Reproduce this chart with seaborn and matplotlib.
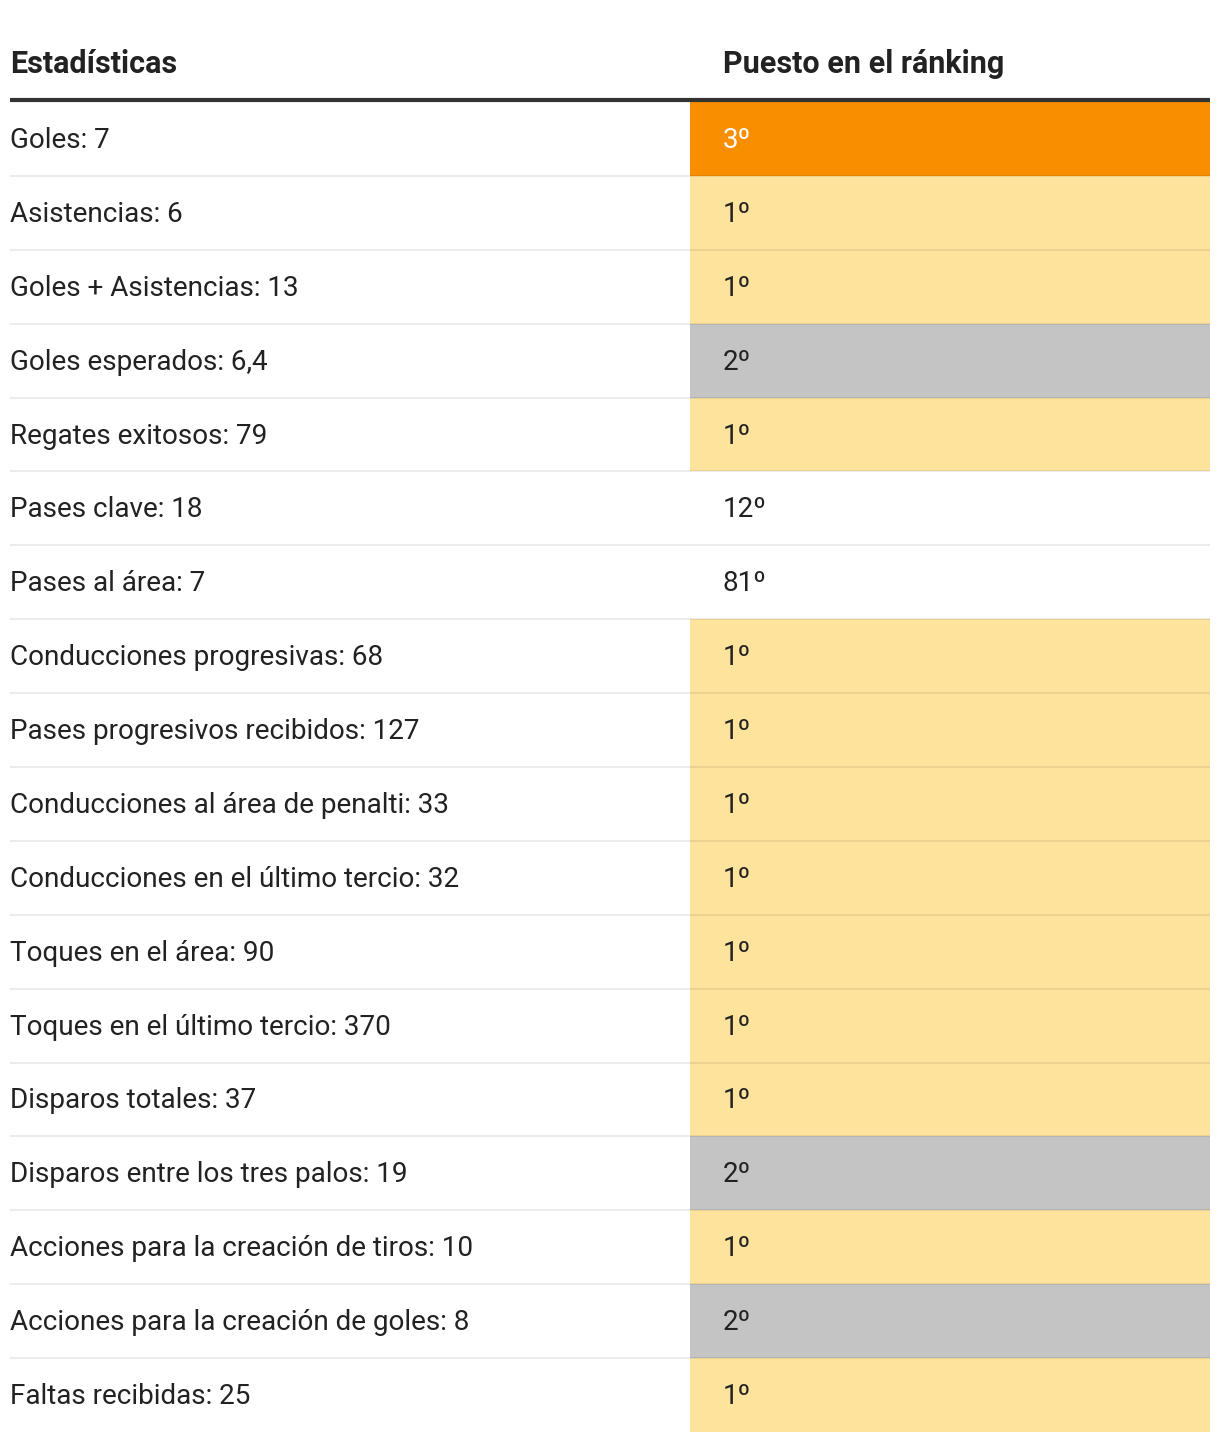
import numpy as np
import pandas as pd
import matplotlib
matplotlib.use("Agg")
import matplotlib.pyplot as plt
from matplotlib.colors import ListedColormap, BoundaryNorm
import seaborn as sns

sns.set_theme(style="white")
plt.rcParams['font.family'] = ['Roboto', 'DejaVu Sans']

stats = ["Goles", "Asistencias", "Goles + Asistencias", "Goles esperados",
         "Regates exitosos", "Pases clave", "Pases al área",
         "Conducciones progresivas", "Pases progresivos recibidos",
         "Conducciones al área de penalti", "Conducciones en el último tercio",
         "Toques en el área", "Toques en el último tercio", "Disparos totales",
         "Disparos entre los tres palos", "Acciones para la creación de tiros",
         "Acciones para la creación de goles", "Faltas recibidas"]
values = ["7", "6", "13", "6,4", "79", "18", "7", "68", "127", "33", "32",
          "90", "370", "37", "19", "10", "8", "25"]
ranks = [3, 1, 1, 2, 1, 12, 81, 1, 1, 1, 1, 1, 1, 1, 2, 1, 2, 1]
headers = ["Estadísticas", "Puesto en el ránking"]

W, H = 1220, 1442
fig = plt.figure(figsize=(W / 100, H / 100), dpi=100)
ax = fig.add_axes([0, 0, 1, 1])
ax.set_xlim(0, W)
ax.set_ylim(H, 0)
ax.axis("off")

top, bottom = 102, 1432
left, right, col2 = 10, 1210, 690
n = len(stats)
rowh = (bottom - top) / n

# colour classes: 0 white, 1 yellow (1st), 2 grey (2nd), 3 orange (3rd)
cls = np.array([[r if r in (1, 2, 3) else 0] for r in ranks])
cmap = ListedColormap(["#FFFFFF", "#FEE39C", "#C4C4C4", "#F98E00"])
norm = BoundaryNorm([-0.5, 0.5, 1.5, 2.5, 3.5], cmap.N)
hax = fig.add_axes([col2 / W, (H - bottom) / H, (right - col2) / W, (bottom - top) / H])
sns.heatmap(pd.DataFrame(cls), ax=hax, cmap=cmap, norm=norm, cbar=False,
            xticklabels=False, yticklabels=False, linewidths=0)
hax.axis("off")

# overlay axis for lines & text
tax = fig.add_axes([0, 0, 1, 1])
tax.set_xlim(0, W)
tax.set_ylim(H, 0)
tax.axis("off")
tax.patch.set_alpha(0)

for k in range(1, n):
    y = top + rowh * k
    tax.plot([left, right], [y, y], color=(0, 0, 0, 0.075), lw=1.5,
             solid_capstyle="butt")
tax.plot([left, right], [top - 2, top - 2], color="#333333", lw=3,
         solid_capstyle="butt")

fs = 20.1
hfs = 22
tax.text(left, 64, headers[0], fontsize=hfs, fontweight="bold",
         color="#222222", va="center", ha="left")
tax.text(723, 64, headers[1], fontsize=hfs, fontweight="bold",
         color="#222222", va="center", ha="left")

for i, (s, v, r) in enumerate(zip(stats, values, ranks)):
    y = top + rowh * (i + 0.5) + 1.5
    tax.text(left, y, f"{s}: {v}", fontsize=fs, color="#222222",
             va="center", ha="left")
    tax.text(723, y, f"{r}º", fontsize=fs,
             color="#FFFFFF" if r == 3 else "#222222", va="center", ha="left")

fig.savefig("out.png", dpi=100, facecolor="white")
